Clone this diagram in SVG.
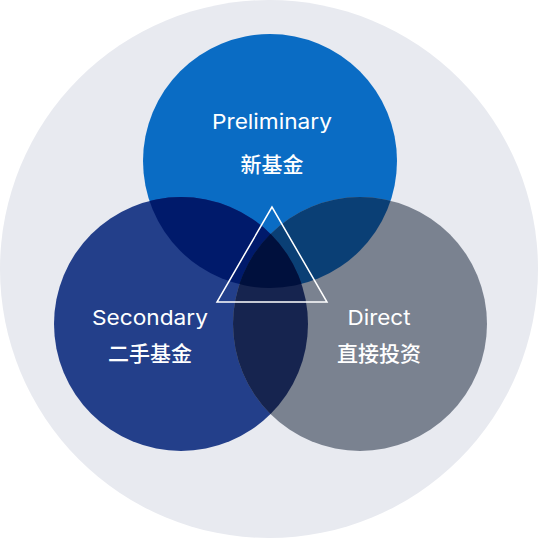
<svg xmlns="http://www.w3.org/2000/svg" width="538" height="538" viewBox="0 0 538 538">
<style>
.lbl{font-family:Inter,"Noto Sans","Noto Sans CJK SC",sans-serif;font-size:20.5px;fill:#ffffff;text-anchor:middle}
.cjk{font-family:"Noto Sans CJK SC",sans-serif;font-size:21px;font-weight:500;fill:#ffffff;text-anchor:middle}
</style>
<defs>
<clipPath id="cTop"><circle cx="270" cy="161" r="127"/></clipPath>
<clipPath id="cLeft"><circle cx="181" cy="324" r="127"/></clipPath>
<clipPath id="cRight"><circle cx="360" cy="324" r="127"/></clipPath>
</defs>
<circle id="outer" cx="269" cy="269" r="269" fill="#e8eaf0"/>
<g id="top"><circle cx="270" cy="161" r="127" fill="#0a6cc4"/></g>
<g id="left"><circle cx="181" cy="324" r="127" fill="#233f8a"/></g>
<g id="right"><circle cx="360" cy="324" r="127" fill="#7a8290"/></g>
<g id="overlaps">
<g clip-path="url(#cTop)"><circle cx="181" cy="324" r="127" fill="#001a6b"/><circle cx="360" cy="324" r="127" fill="#0a3f75"/></g>
<g clip-path="url(#cLeft)"><circle cx="360" cy="324" r="127" fill="#16244f"/></g>
<g clip-path="url(#cTop)"><g clip-path="url(#cLeft)"><circle cx="360" cy="324" r="127" fill="#00103d"/></g></g>
</g>
<g id="connectors"><polygon points="272,207 217,302 327,302" fill="none" stroke="#ffffff" stroke-width="1.5"/></g>
<g id="label-top"><text class="lbl" x="272" y="129" textLength="120" lengthAdjust="spacingAndGlyphs">Preliminary</text><text class="cjk" x="272" y="172">新基金</text></g>
<g id="label-left"><text class="lbl" x="150" y="325" textLength="116" lengthAdjust="spacingAndGlyphs">Secondary</text><text class="cjk" x="150" y="361">二手基金</text></g>
<g id="label-right"><text class="lbl" x="379" y="325" textLength="63" lengthAdjust="spacingAndGlyphs">Direct</text><text class="cjk" x="379" y="361">直接投资</text></g>
</svg>
